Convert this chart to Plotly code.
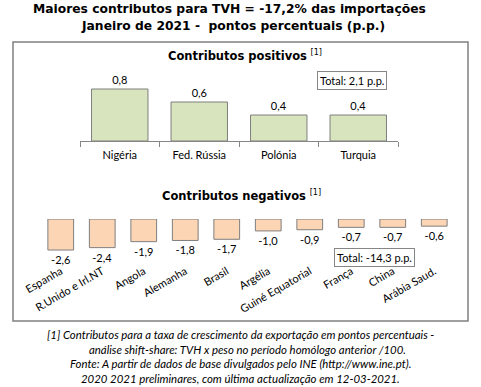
import plotly.graph_objects as go

W, H = 481, 387

title_lines = ["Maiores contributos para TVH = -17,2% das importações",
               "Janeiro de 2021 -  pontos percentuais (p.p.)"]

pos_cats = ["Nigéria", "Fed. Rússia", "Polónia", "Turquia"]
pos_vals = [0.8, 0.6, 0.4, 0.4]
pos_total = "Total: 2,1 p.p."

neg_cats = ["Espanha", "R.Unido e Irl.NT", "Angola", "Alemanha", "Brasil",
            "Argélia", "Guiné Equatorial", "França", "China", "Arábia Saud."]
neg_vals = [-2.6, -2.4, -1.9, -1.8, -1.7, -1.0, -0.9, -0.7, -0.7, -0.6]
neg_total = "Total: -14,3 p.p."

foot_lines = [
    "[1] Contributos para a taxa de crescimento da exportação em pontos percentuais -",
    "      análise shift-share: TVH x peso no período homólogo anterior /100.",
    "Fonte: A partir de dados de base divulgados pelo INE (http://www.ine.pt).",
    "2020 2021 preliminares, com última actualização em 12-03-2021.",
]

def px_x(x):
    return x / W

def px_y(y):
    return 1 - y / H

GRAY = "#868686"
LBL = dict(family="Lato, Carlito, sans-serif", size=11, color="#000000")

fig = go.Figure()
fig.add_bar(x=pos_cats, y=pos_vals, xaxis="x", yaxis="y", width=0.71,
            marker=dict(color="#D7E4BD", line=dict(color="#7F7F7F", width=1)),
            texttemplate="%{y:.1f}", textposition="outside", cliponaxis=False,
            textfont=LBL, showlegend=False, hoverinfo="x+y")
fig.add_bar(x=neg_cats, y=neg_vals, xaxis="x2", yaxis="y2", width=0.62,
            marker=dict(color="#FCD5B5", line=dict(color="#7F7F7F", width=1)),
            texttemplate="%{y:.1f}", textposition="outside", cliponaxis=False,
            textfont=LBL, showlegend=False, hoverinfo="x+y")

bounds = [i - 0.5 for i in range(len(neg_cats) + 1)]

fig.update_layout(
    width=W, height=H,
    margin=dict(l=0, r=0, t=0, b=0, autoexpand=False),
    paper_bgcolor="white", plot_bgcolor="white",
    separators=",.",
    xaxis=dict(domain=[px_x(80), px_x(398)], anchor="y", type="category",
               range=[-0.5, len(pos_cats) - 0.5], autorange=False,
               showline=True, linecolor=GRAY, linewidth=1,
               ticks="outside", tickson="boundaries", ticklen=5, tickcolor=GRAY,
               ticklabelstandoff=4, automargin=False,
               tickfont=LBL, showgrid=False, fixedrange=True),
    yaxis=dict(domain=[px_y(141), px_y(76)], range=[0, 1.0], visible=False,
               fixedrange=True),
    xaxis2=dict(domain=[px_x(40), px_x(455)], anchor="free", position=px_y(262),
                type="category", range=[-0.5, len(neg_cats) - 0.5], autorange=False,
                showline=False, ticks="", tickangle=-30, automargin=False,
                tickfont=LBL, showgrid=False, fixedrange=True),
    yaxis2=dict(domain=[px_y(254.8), px_y(219)], range=[-3.0, 0], visible=False,
                fixedrange=True),
    xaxis3=dict(domain=[px_x(40), px_x(455)], anchor="y2", overlaying="x2",
                side="top", range=[bounds[0], bounds[-1]], autorange=False,
                tickmode="array",
                tickvals=bounds, showticklabels=False, ticks="outside",
                ticklen=3, tickcolor=GRAY, showline=True, linecolor=GRAY,
                linewidth=1, showgrid=False, zeroline=False, fixedrange=True),
    showlegend=False,
)

TITLE_FONT = dict(family="DejaVu Sans, Verdana, sans-serif", size=12.3, color="#000000")
SUB_FONT = dict(family="DejaVu Sans, Verdana, sans-serif", size=11.5, color="#000000")

ann = []
ann.append(dict(text="<b>" + title_lines[0] + "</b>", x=px_x(229), y=px_y(9),
                xref="paper", yref="paper", showarrow=False, font=TITLE_FONT,
                xanchor="center", yanchor="middle"))
ann.append(dict(text="<b>" + title_lines[1] + "</b>", x=px_x(233), y=px_y(26),
                xref="paper", yref="paper", showarrow=False, font=TITLE_FONT,
                xanchor="center", yanchor="middle"))
ann.append(dict(text="<b>Contributos positivos</b> <sup>[1]</sup>", x=px_x(245), y=px_y(56),
                xref="paper", yref="paper", showarrow=False, font=SUB_FONT,
                xanchor="center", yanchor="middle"))
ann.append(dict(text="<b>Contributos negativos</b> <sup>[1]</sup>", x=px_x(241), y=px_y(195),
                xref="paper", yref="paper", showarrow=False, font=SUB_FONT,
                xanchor="center", yanchor="middle"))
ann.append(dict(text=pos_total, x=px_x(352), y=px_y(80.5), xref="paper", yref="paper",
                showarrow=False, font=LBL, bordercolor=GRAY, borderwidth=1,
                borderpad=2, bgcolor="white", xanchor="center", yanchor="middle"))
ann.append(dict(text=neg_total, x=px_x(374.5), y=px_y(257.5), xref="paper", yref="paper",
                showarrow=False, font=LBL, bordercolor=GRAY, borderwidth=1,
                borderpad=2, bgcolor="white", xanchor="center", yanchor="middle"))
FOOT_FONT = dict(family="Lato, Carlito, sans-serif", size=11.4, color="#000000")
foot_y = [334, 349, 363.5, 378]
for line, yy in zip(foot_lines, foot_y):
    ann.append(dict(text="<i>" + line.strip() + "</i>", x=px_x(240 if not line.startswith("  ") else 247),
                    y=px_y(yy), xref="paper", yref="paper", showarrow=False,
                    font=FOOT_FONT, xanchor="center", yanchor="middle"))
fig.update_layout(annotations=ann)

fig.add_shape(type="rect", xref="paper", yref="paper",
              x0=px_x(13), x1=px_x(468), y0=px_y(321), y1=px_y(42),
              line=dict(color="#808080", width=1.5), fillcolor="rgba(0,0,0,0)",
              layer="below")

fig.write_html("out.html", config={"displayModeBar": False},
               post_script="document.body.style.margin='0px';document.body.style.overflow='hidden';")
